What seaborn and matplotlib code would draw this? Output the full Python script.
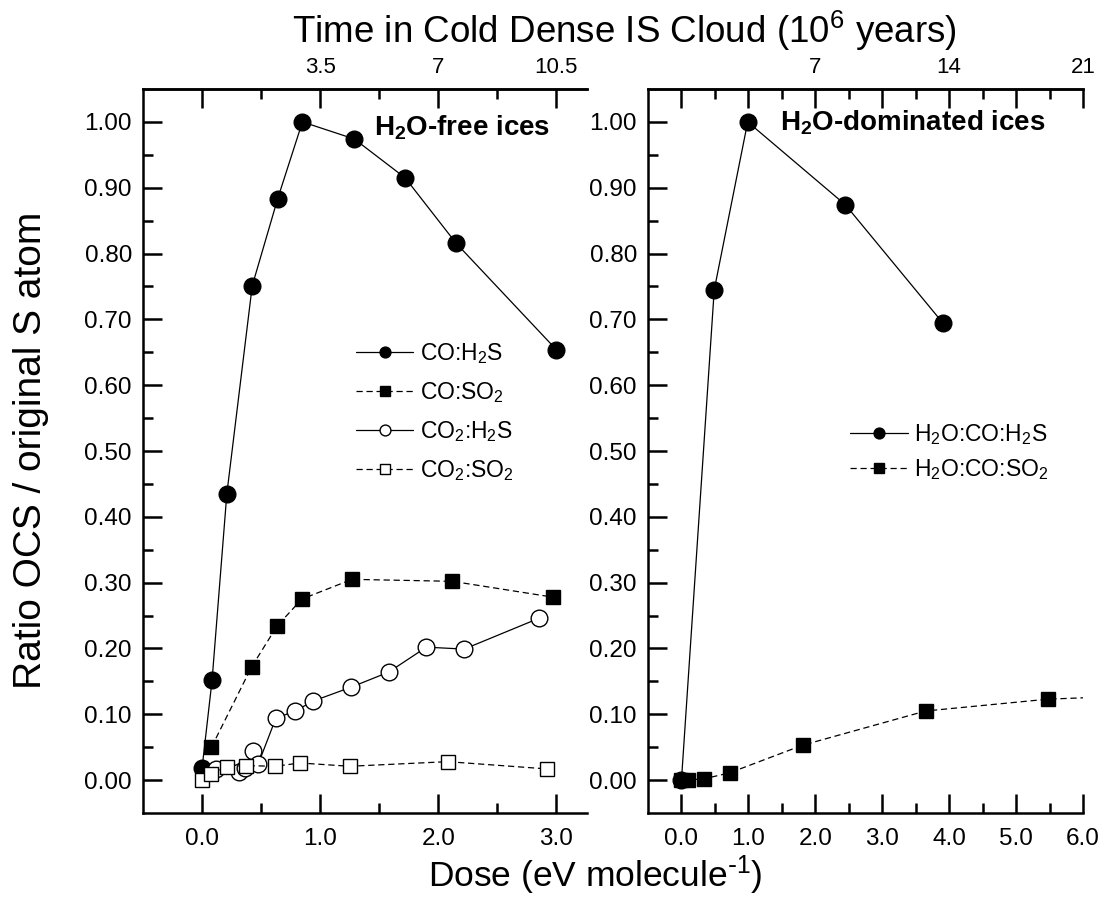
import matplotlib
matplotlib.use("Agg")
import matplotlib.pyplot as plt
import seaborn as sns
import pandas as pd

# H2O-free ices (left panel)
co_h2s_dose = [0.0, 0.085, 0.21, 0.425, 0.64, 0.85, 1.29, 1.72, 2.15, 3.0]
co_h2s_ratio = [0.018, 0.152, 0.435, 0.751, 0.883, 1.0, 0.974, 0.915, 0.816, 0.654]

co_so2_dose = [0.08, 0.42, 0.635, 0.845, 1.27, 2.12, 2.97]
co_so2_ratio = [0.05, 0.172, 0.234, 0.275, 0.305, 0.302, 0.278]

co2_h2s_dose = [0.12, 0.31, 0.365, 0.43, 0.475, 0.625, 0.79, 0.94, 1.26, 1.58, 1.90, 2.22, 2.855]
co2_h2s_ratio = [0.017, 0.012, 0.018, 0.044, 0.024, 0.094, 0.105, 0.120, 0.141, 0.164, 0.202, 0.199, 0.246]

co2_so2_dose = [0.0, 0.08, 0.21, 0.37, 0.62, 0.83, 1.25, 2.08, 2.92]
co2_so2_ratio = [0.0, 0.01, 0.02, 0.022, 0.021, 0.026, 0.021, 0.028, 0.017]

# H2O-dominated ices (right panel)
w_h2s_dose = [0.0, 0.49, 0.99, 2.45, 3.91]
w_h2s_ratio = [0.0, 0.745, 1.0, 0.874, 0.694]

w_so2_dose = [0.0, 0.1, 0.34, 0.72, 1.81, 3.65, 5.48, 7.3]
w_so2_ratio = [0.0, 0.0, 0.002, 0.011, 0.053, 0.105, 0.123, 0.13]

# time conversion (10^6 yr per eV/molecule)
yr_per_dose = 3.5

sns.set_style("ticks")
plt.rcParams['font.family'] = ['Liberation Sans', 'DejaVu Sans']
plt.rcParams['mathtext.default'] = 'regular'
for k in ('text.color', 'axes.labelcolor', 'xtick.color', 'ytick.color', 'axes.edgecolor'):
    plt.rcParams[k] = 'black'

fig = plt.figure(figsize=(11.1, 9.01), dpi=100)
bottom = 88 / 901
height = 724 / 901
ax1 = fig.add_axes([143 / 1110, bottom, 444 / 1110, height])
ax2 = fig.add_axes([648 / 1110, bottom, 435 / 1110, height])


def draw(ax, x, y, label, marker, filled, dashed):
    df = pd.DataFrame({"dose": x, "ratio": y})
    sns.lineplot(data=df, x="dose", y="ratio", ax=ax, sort=False, estimator=None,
                 color="black", lw=0.9, linestyle=(0, (5, 3)) if dashed else "-",
                 marker=marker, markersize=12 if marker == "o" else 10.5,
                 markerfacecolor="black" if filled else "white",
                 markeredgecolor="black", markeredgewidth=1.0, label=label)


draw(ax1, co_h2s_dose, co_h2s_ratio, r"CO:H$_2$S", "o", True, False)
draw(ax1, co_so2_dose, co_so2_ratio, r"CO:SO$_2$", "s", True, True)
draw(ax1, co2_h2s_dose, co2_h2s_ratio, r"CO$_2$:H$_2$S", "o", False, False)
draw(ax1, co2_so2_dose, co2_so2_ratio, r"CO$_2$:SO$_2$", "s", False, True)

draw(ax2, w_h2s_dose, w_h2s_ratio, r"H$_2$O:CO:H$_2$S", "o", True, False)
draw(ax2, w_so2_dose, w_so2_ratio, r"H$_2$O:CO:SO$_2$", "s", True, True)

ax1.set_xlim(-0.5, 3.26)
ax2.set_xlim(-0.5, 6.0)
ax1.set_xticks([0, 1, 2, 3], labels=["0.0", "1.0", "2.0", "3.0"])
ax1.set_xticks([0.5, 1.5, 2.5], minor=True)
ax2.set_xticks(range(7), labels=["%.1f" % v for v in range(7)])
ax2.set_xticks([0.5, 1.5, 2.5, 3.5, 4.5, 5.5], minor=True)

yt = [i / 10 for i in range(11)]
for ax in (ax1, ax2):
    ax.set_ylim(-0.05, 1.05)
    ax.set_yticks(yt, labels=["%.2f" % v for v in yt])
    ax.set_yticks([i / 20 for i in range(1, 21, 2)], minor=True)
    ax.spines['right'].set_visible(False)
    for s in ('left', 'bottom', 'top'):
        ax.spines[s].set_linewidth(1.8)
    ax.tick_params(which='major', direction='in', length=14, width=1.8, labelsize=17.5, pad=8)
    ax.tick_params(which='minor', direction='in', length=7, width=1.8)
    ax.tick_params(axis='x', which='major', pad=11)
    ax.set_xlabel("")
    ax.set_ylabel("")
    sec = ax.secondary_xaxis('top', functions=(lambda d: d * yr_per_dose,
                                               lambda t: t / yr_per_dose))
    sec.spines['top'].set_linewidth(1.8)
    sec.tick_params(which='major', direction='in', length=14, width=1.8, labelsize=16, pad=8)
    sec.tick_params(which='minor', direction='in', length=7, width=1.8)
    ax.sec = sec

ax1.sec.set_xticks([0, 3.5, 7, 10.5], labels=["", "3.5", "7", "10.5"])
ax1.sec.set_xticks([1.75, 5.25, 8.75], minor=True)
ax2.sec.set_xticks([0, 3.5, 7, 10.5, 14, 17.5, 21],
                   labels=["", "", "7", "", "14", "", "21"])
ax2.sec.set_xticks([1.75, 5.25, 8.75, 12.25, 15.75, 19.25], minor=True)

leg_kw = dict(frameon=False, fontsize=16.5, loc='upper left', borderaxespad=0,
              borderpad=0, handlelength=2.5, handletextpad=0.3,
              markerscale=0.65)
ax1.legend(bbox_to_anchor=(0.48, 0.652), labelspacing=0.62, **leg_kw)
ax2.legend(bbox_to_anchor=(0.465, 0.54), labelspacing=0.45, **leg_kw)

ax1.text(0.52, 0.946, r"H$_2$O-free ices", transform=ax1.transAxes,
         fontsize=20, fontweight='bold', ha='left', va='center')
ax2.text(0.303, 0.954, r"H$_2$O-dominated ices", transform=ax2.transAxes,
         fontsize=20, fontweight='bold', ha='left', va='center')

fig.text(0.563, 0.966, r"Time in Cold Dense IS Cloud (10$^6$ years)",
         fontsize=26.5, ha='center', va='center')
fig.text(0.536, 0.029, r"Dose (eV molecule$^{\text{-}1}$)",
         fontsize=25.5, ha='center', va='center')
fig.text(0.028, 0.50, "Ratio OCS / original S atom", fontsize=28,
         rotation=90, ha='center', va='center')

fig.savefig("out.png", dpi=100)
